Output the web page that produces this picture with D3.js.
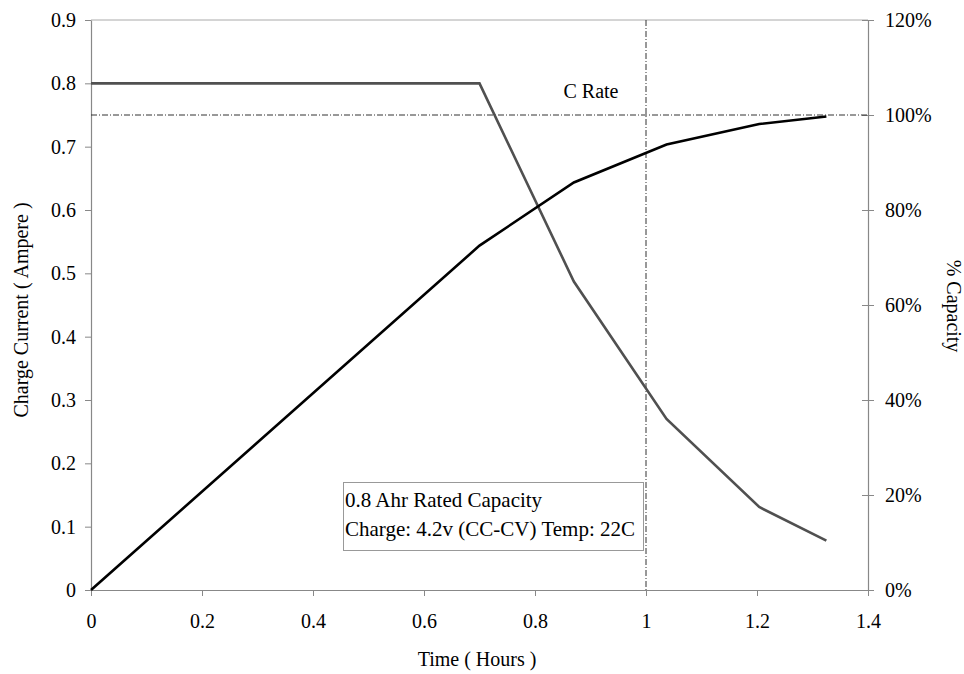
<!DOCTYPE html>
<html><head><meta charset="utf-8">
<script src="https://cdn.jsdelivr.net/npm/d3@7/dist/d3.min.js"></script>
<style>body{margin:0;background:#fff}svg{display:block}text{font-family:"Liberation Serif","Times New Roman","DejaVu Serif",serif;fill:#000}</style>
</head><body><svg id="c" width="964" height="674"></svg>
<script>
const timeHours = [0, 0.70, 0.87, 1.037, 1.204, 1.325];
const chargeCurrent = [0.80, 0.80, 0.487, 0.27, 0.131, 0.078];
const capacityPct = [0, 72.5, 85.8, 93.8, 98.1, 99.7];
const xTicks = [0, 0.2, 0.4, 0.6, 0.8, 1, 1.2, 1.4];
const yTicks = [0, 0.1, 0.2, 0.3, 0.4, 0.5, 0.6, 0.7, 0.8, 0.9];
const y2Ticks = [0, 20, 40, 60, 80, 100, 120];
const cRate = 0.75;
const refTime = 1;

const FONT = '"Liberation Serif","Times New Roman","DejaVu Serif",serif';
const FS = "20px";
const svg = d3.select("#c");
const L = 91, R = 868, T = 20, B = 590;
const x = d3.scaleLinear().domain([0, 1.4]).range([L, R]);
const y = d3.scaleLinear().domain([0, 0.9]).range([B, T]);
const y2 = d3.scaleLinear().domain([0, 120]).range([B, T]);
const axisColor = "#888";

// top border
svg.append("line").attr("x1", L).attr("x2", R).attr("y1", T).attr("y2", T).attr("stroke", "#aaa").attr("stroke-width", 1);

function styleAxis(g) {
  g.attr("font-family", null).attr("font-size", null);
  g.select(".domain").attr("stroke", axisColor).attr("stroke-width", 1.2);
  g.selectAll(".tick line").attr("stroke", axisColor).attr("stroke-width", 1);
  g.selectAll("text").style("font-family", FONT).style("font-size", FS).attr("fill", "#000");
}

const gx = svg.append("g").attr("transform", `translate(0,${B})`)
  .call(d3.axisBottom(x).tickValues(xTicks).tickFormat(d3.format("")).tickSize(6).tickSizeOuter(0).tickPadding(18));
styleAxis(gx);
const gy = svg.append("g").attr("transform", `translate(${L},0)`)
  .call(d3.axisLeft(y).tickValues(yTicks).tickFormat(d => d === 0 ? "0" : d3.format(".1f")(d)).tickSize(6).tickSizeOuter(0).tickPadding(9));
styleAxis(gy);
const gy2 = svg.append("g").attr("transform", `translate(${R},0)`)
  .call(d3.axisRight(y2).tickValues(y2Ticks).tickFormat(d => d + "%").tickSize(6).tickSizeOuter(0).tickPadding(11));
styleAxis(gy2);
gy2.selectAll(".tick line").attr("x1", -6);

// reference lines
svg.append("line").attr("x1", L).attr("x2", R).attr("y1", y(cRate)).attr("y2", y(cRate))
  .attr("stroke", "#333").attr("stroke-width", 1).attr("stroke-dasharray", "6,2,1,2");
svg.append("line").attr("x1", x(refTime)).attr("x2", x(refTime)).attr("y1", T).attr("y2", B)
  .attr("stroke", "#333").attr("stroke-width", 1).attr("stroke-dasharray", "6,2,1,2");

svg.append("text").attr("x", 591).attr("y", 98).attr("text-anchor", "middle").style("font-size", FS).text("C Rate");

// series
const pts = timeHours.map((t, i) => ({t, c: chargeCurrent[i], p: capacityPct[i]}));
svg.append("path").datum(pts).attr("fill", "none").attr("stroke", "#505050").attr("stroke-width", 2.6)
  .attr("d", d3.line().x(d => x(d.t)).y(d => y(d.c)));
svg.append("path").datum(pts).attr("fill", "none").attr("stroke", "#000").attr("stroke-width", 2.6)
  .attr("d", d3.line().x(d => x(d.t)).y(d => y2(d.p)));

// annotation box
svg.append("rect").attr("x", 343.5).attr("y", 482.5).attr("width", 300).attr("height", 68)
  .attr("fill", "#fff").attr("stroke", "#999").attr("stroke-width", 1);
svg.append("text").attr("x", 345).attr("y", 507).style("font-size", "21px").text("0.8 Ahr Rated Capacity");
svg.append("text").attr("x", 345).attr("y", 536).style("font-size", "21px").text("Charge: 4.2v (CC-CV) Temp: 22C");

// axis titles
svg.append("text").attr("transform", `translate(28,310) rotate(-90)`).attr("text-anchor", "middle").style("font-size", FS).text("Charge Current ( Ampere )");
svg.append("text").attr("transform", `translate(947,306) rotate(90)`).attr("text-anchor", "middle").style("font-size", FS).text("% Capacity");
svg.append("text").attr("x", 477).attr("y", 666).attr("text-anchor", "middle").style("font-size", FS).text("Time ( Hours )");
</script></body></html>
